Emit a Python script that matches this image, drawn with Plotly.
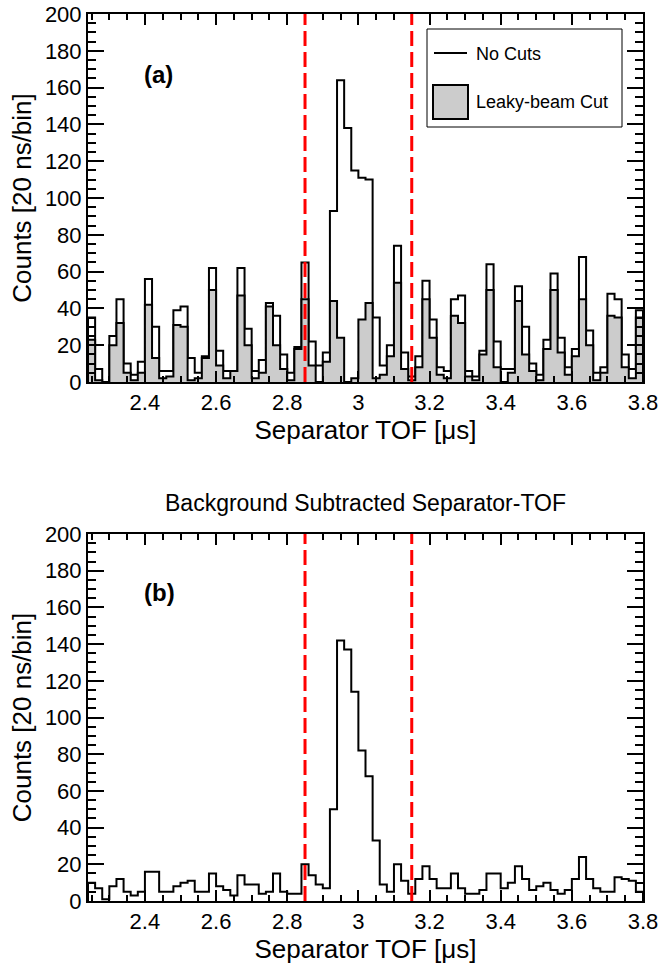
import plotly.graph_objects as go
from plotly.subplots import make_subplots

# ---------------- data ----------------
bin_start = 2.24      # µs, left edge of first bin
bin_width = 0.02      # µs (20 ns / bin)

no_cuts = [35, 7, 0, 25, 45, 10, 4, 11, 56, 30,
           6, 6, 39, 41, 13, 5, 14, 62, 17, 6,
           6, 62, 29, 6, 12, 43, 36, 15, 5, 19,
           65, 22, 9, 16, 93, 164, 138, 115, 111, 110,
           35, 9, 20, 74, 16, 3, 14, 55, 34, 8,
           6, 45, 47, 6, 3, 17, 64, 22, 7, 7,
           52, 30, 10, 4, 23, 59, 24, 8, 18, 68,
           28, 5, 8, 48, 45, 15, 7, 39]

leaky_beam_cut = [23, 1, 0, 20, 32, 5, 1, 5, 42, 13,
                  2, 3, 31, 30, 1, 2, 13, 50, 9, 2,
                  6, 47, 20, 2, 5, 41, 20, 7, 1, 18,
                  45, 9, 0, 11, 44, 24, 0, 2, 34, 43,
                  2, 4, 14, 54, 7, 1, 8, 45, 24, 4,
                  2, 36, 32, 3, 1, 15, 50, 8, 0, 5,
                  44, 15, 6, 1, 18, 50, 16, 4, 14, 45,
                  20, 1, 5, 36, 35, 8, 2, 35]

bg_subtracted = [10, 7, 1, 8, 12, 5, 3, 5, 16, 16,
                 5, 5, 8, 10, 11, 5, 5, 15, 8, 6,
                 3, 14, 9, 9, 4, 5, 15, 5, 4, 4,
                 20, 14, 9, 7, 50, 142, 137, 114, 82, 68,
                 33, 9, 5, 20, 11, 4, 12, 19, 12, 7,
                 7, 15, 7, 4, 4, 6, 15, 15, 7, 10,
                 19, 12, 6, 8, 10, 6, 4, 6, 12, 24,
                 12, 7, 5, 5, 13, 12, 11, 5]

cut_window = [2.85, 3.15]
x_ticks = [2.4, 2.6, 2.8, 3.0, 3.2, 3.4, 3.6, 3.8]
x_tick_labels = ["2.4", "2.6", "2.8", "3", "3.2", "3.4", "3.6", "3.8"]
y_ticks = [0, 20, 40, 60, 80, 100, 120, 140, 160, 180, 200]

# ---------------- helpers ----------------
def step_xy(vals):
    n = len(vals)
    edges = [round(bin_start + bin_width * i, 4) for i in range(n + 1)]
    xs = [edges[0]] + edges[:-1] + [edges[-1], edges[-1]]
    ys = [0] + list(vals) + [vals[-1], 0]
    return xs, ys

FONT = "Liberation Sans, Arial, Helvetica, sans-serif"

fig = make_subplots(rows=2, cols=1, vertical_spacing=0.0)

# Panel (a)
xs, ys = step_xy(no_cuts)
fig.add_trace(go.Scatter(x=xs, y=ys, mode="lines", line_shape="hv",
                         line=dict(color="black", width=2),
                         name="No Cuts", showlegend=False), row=1, col=1)
xs, ys = step_xy(leaky_beam_cut)
fig.add_trace(go.Scatter(x=xs, y=ys, mode="lines", line_shape="hv",
                         fill="tozeroy", fillcolor="#cccccc",
                         line=dict(color="black", width=2),
                         name="Leaky-beam Cut", showlegend=False), row=1, col=1)

# Panel (b)
xs, ys = step_xy(bg_subtracted)
fig.add_trace(go.Scatter(x=xs, y=ys, mode="lines", line_shape="hv",
                         line=dict(color="black", width=2),
                         name="Background subtracted", showlegend=False), row=2, col=1)

# cut window lines
for r in (1, 2):
    for xc in cut_window:
        fig.add_vline(x=xc, line=dict(color="red", width=3, dash="15px,6px"), row=r, col=1)

xaxis_common = dict(
    range=[bin_start, bin_start + bin_width * len(no_cuts)],
    tickvals=x_ticks, ticktext=x_tick_labels,
    ticks="inside", ticklen=11, tickwidth=2, tickcolor="black",
    minor=dict(dtick=0.05, tick0=2.4, ticks="inside", ticklen=6, tickwidth=2, tickcolor="black"),
    showline=True, linewidth=2, linecolor="black", mirror="ticks",
    showgrid=False, zeroline=False, automargin=False,
    tickfont=dict(family=FONT, size=22, color="black"),
    title=dict(text="Separator TOF [μs]", font=dict(family=FONT, size=26, color="black"), standoff=4),
)
yaxis_common = dict(
    range=[0, 200],
    tickvals=y_ticks,
    ticks="inside", ticklen=16, tickwidth=2, tickcolor="black",
    minor=dict(dtick=5, tick0=0, ticks="inside", ticklen=8, tickwidth=2, tickcolor="black"),
    showline=True, linewidth=2, linecolor="black", mirror="ticks",
    showgrid=False, zeroline=False, automargin=False,
    tickfont=dict(family=FONT, size=22, color="black"),
    title=dict(text="Counts [20 ns/bin]", font=dict(family=FONT, size=26, color="black"), standoff=6),
)

W, H = 661, 964
left, right = 88, 643
top_a, bot_a = 14, 382
top_b, bot_b = 534, 901
ph = bot_b - top_a

fig.update_xaxes(**xaxis_common)
fig.update_yaxes(**yaxis_common)
fig.update_layout(
    width=W, height=H,
    margin=dict(l=left, r=W - right, t=top_a, b=H - bot_b, autoexpand=False),
    paper_bgcolor="white", plot_bgcolor="white",
    font=dict(family=FONT, color="black"),
    yaxis=dict(domain=[(bot_b - bot_a) / ph, 1.0]),
    yaxis2=dict(domain=[0.0, (bot_b - top_b) / ph]),
    xaxis=dict(domain=[0, 1]), xaxis2=dict(domain=[0, 1]),
)

# panel labels
fig.add_annotation(text="<b>(a)</b>", xref="x domain", yref="y domain",
                   x=(158 - 88) / 555, y=(382 - 74) / 368,
                   xanchor="center", yanchor="middle",
                   showarrow=False, font=dict(family=FONT, size=24, color="black"))
fig.add_annotation(text="<b>(b)</b>", xref="x2 domain", yref="y2 domain",
                   x=(159 - 88) / 555, y=(901 - 592) / 367,
                   xanchor="center", yanchor="middle",
                   showarrow=False, font=dict(family=FONT, size=24, color="black"))

# panel (b) title
fig.add_annotation(text="Background Subtracted Separator-TOF", xref="paper", yref="paper",
                   x=0.5, y=(901 - 503) / ph, xanchor="center", yanchor="middle",
                   showarrow=False, font=dict(family=FONT, size=23, color="black"))

# legend (panel a)
def dx(px):
    return (px - 88) / 555
def dy(py):
    return (382 - py) / 368

fig.add_shape(type="rect", xref="x domain", yref="y domain",
              x0=dx(427), x1=dx(622), y0=dy(127), y1=dy(29),
              line=dict(color="black", width=1), fillcolor="white", layer="above")
fig.add_shape(type="line", xref="x domain", yref="y domain",
              x0=dx(434), x1=dx(467), y0=dy(53), y1=dy(53),
              line=dict(color="black", width=2), layer="above")
fig.add_shape(type="rect", xref="x domain", yref="y domain",
              x0=dx(433), x1=dx(468), y0=dy(119), y1=dy(85),
              line=dict(color="black", width=2), fillcolor="#cccccc", layer="above")
fig.add_annotation(text="No Cuts", xref="x domain", yref="y domain", x=dx(474), y=dy(54),
                   xanchor="left", yanchor="middle", showarrow=False,
                   font=dict(family=FONT, size=18, color="black"))
fig.add_annotation(text="Leaky-beam Cut", xref="x domain", yref="y domain", x=dx(474), y=dy(102),
                   xanchor="left", yanchor="middle", showarrow=False,
                   font=dict(family=FONT, size=18, color="black"))

fig.write_html("out.html", config={"displayModeBar": False},
               post_script="document.body.style.margin='0';")
